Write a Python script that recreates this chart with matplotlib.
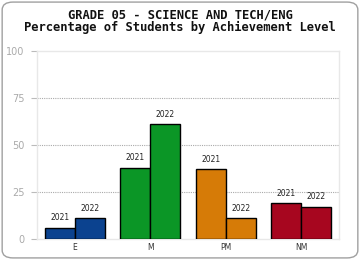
import matplotlib
matplotlib.use("Agg")
import matplotlib.pyplot as plt
from matplotlib.patches import FancyBboxPatch
import numpy as np

# data
levels = ["E", "M", "PM", "NM"]
years = ["2021", "2022"]
pct_2021 = [6, 38, 37, 19]
pct_2022 = [11, 61, 11, 17]
level_colors = ["#0b428f", "#0b9626", "#d67b07", "#a7061f"]
yticks = [0, 25, 50, 75, 100]

fig = plt.figure(figsize=(3.6, 2.6), dpi=100)
fig.patch.set_facecolor("white")

# rounded frame around the whole chart
frame = FancyBboxPatch((0.006, 0.008), 0.988, 0.984, boxstyle="round,pad=0,rounding_size=0.03",
                       transform=fig.transFigure, facecolor="none", edgecolor="#a0a0a0", lw=1.0)
fig.patches.append(frame)

ax = fig.add_axes([0.1028, 0.0808, 0.839, 0.723])

x = np.arange(len(levels))
w = 0.4
for vals, off, yr in [(pct_2021, -w / 2, years[0]), (pct_2022, w / 2, years[1])]:
    bars = ax.bar(x + off, vals, width=w, color=level_colors, edgecolor="black", lw=1.0, zorder=3)
    for b, v in zip(bars, vals):
        ax.text(b.get_x() + b.get_width() / 2, v + 3, yr, ha="center", va="bottom",
                fontsize=5.5, color="#222222", zorder=4)

ax.set_xlim(-0.5, len(levels) - 0.5)
ax.set_ylim(0, 100)
ax.set_yticks(yticks)
ax.set_yticklabels([str(t) for t in yticks], fontsize=7, color="#aaaaaa")
ax.set_xticks(x)
ax.set_xticklabels(levels, fontsize=5.5, color="#333333")
ax.tick_params(axis="x", length=0, pad=3)
ax.tick_params(axis="y", length=4, color="#bbbbbb", pad=5)

for t in [25, 50, 75]:
    ax.axhline(t, color="#aaaaaa", lw=0.8, ls=(0, (1, 1)), zorder=1)

for s in ax.spines.values():
    s.set_color("#e8e8e8")
    s.set_linewidth(1.0)

fig.text(0.5, 0.919, "GRADE 05 - SCIENCE AND TECH/ENG\nPercentage of Students by Achievement Level",
         ha="center", va="center", linespacing=0.95, fontsize=8.7, fontweight="bold",
         family="DejaVu Sans Mono", color="#111111")

fig.savefig("out.png", dpi=100)
